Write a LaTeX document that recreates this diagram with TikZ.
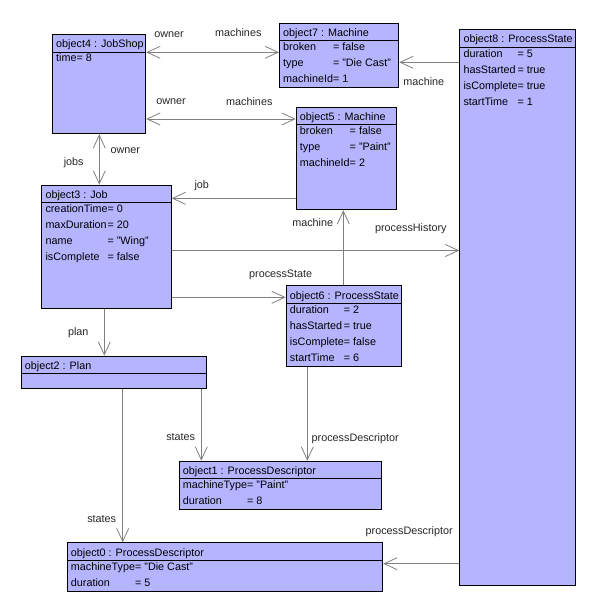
\documentclass[tikz,border=0pt]{standalone}
\usepackage{fontspec}
\setmainfont{Liberation Sans}
\usetikzlibrary{arrows.meta}
\definecolor{boxfill}{RGB}{180,180,255}
\definecolor{conncol}{RGB}{128,128,128}
\begin{document}
\begin{tikzpicture}[x=1pt,y=-1pt,
  font=\fontsize{10.8}{16}\selectfont,
  box/.style={draw=black, line width=0.9pt, fill=boxfill, inner sep=0pt, anchor=north west},
  divider/.style={draw=black, line width=0.9pt},
  hdr/.style={inner sep=0pt, anchor=base west},
  attr/.style={inner sep=0pt, anchor=base west},
  lbl/.style={inner sep=0pt, text height=1.55ex, text depth=0.3ex, text=black!85},
  conn/.style={draw=conncol, line width=0.8pt},
  tip/.style={-{Straight Barb[length=13pt,width=12pt]}},
  tips/.style={{Straight Barb[length=13pt,width=12pt]}-{Straight Barb[length=13pt,width=12pt]}}
]
\useasboundingbox (0,0) rectangle (596,612);
\fill[white] (0,0) rectangle (596,612);

% ---- boxes ----
\node[box, minimum width=93.3pt, minimum height=99.3pt] (o4) at (52,34) {};
\node[box, minimum width=119.3pt, minimum height=64.6pt] (o7) at (279,22.7) {};
\node[box, minimum width=115.7pt, minimum height=555.7pt] (o8) at (459.3,29.3) {};
\node[box, minimum width=100pt, minimum height=102.6pt] (o5) at (295.7,106.7) {};
\node[box, minimum width=129.4pt, minimum height=123.3pt] (o3) at (41.3,184.7) {};
\node[box, minimum width=115.6pt, minimum height=80.7pt] (o6) at (285.7,285.3) {};
\node[box, minimum width=185.6pt, minimum height=32.6pt] (o2) at (20.7,355.7) {};
\node[box, minimum width=202pt, minimum height=48.6pt] (o1) at (178.7,460.7) {};
\node[box, minimum width=315.6pt, minimum height=48.7pt] (o0) at (66.7,542.3) {};

\foreach \b in {o4,o7,o8,o5,o3,o6,o2,o1,o0}{
  \draw[divider] ([yshift=-18pt]\b.north west) -- ([yshift=-18pt]\b.north east);
}

% ---- headers ----
\node[hdr] (h4) at ([xshift=4pt,yshift=-13.7pt]o4.north west) {object4 : JobShop};
\node[hdr] (h7) at ([xshift=4pt,yshift=-13.7pt]o7.north west) {object7 : Machine};
\node[hdr] (h8) at ([xshift=4pt,yshift=-13.7pt]o8.north west) {object8 : ProcessState};
\node[hdr] (h5) at ([xshift=4pt,yshift=-13.7pt]o5.north west) {object5 : Machine};
\node[hdr] (h3) at ([xshift=4pt,yshift=-13.7pt]o3.north west) {object3 : Job};
\node[hdr] (h6) at ([xshift=4pt,yshift=-13.7pt]o6.north west) {object6 : ProcessState};
\node[hdr] (h2) at ([xshift=4pt,yshift=-13.7pt]o2.north west) {object2 : Plan};
\node[hdr] (h1) at ([xshift=4pt,yshift=-13.7pt]o1.north west) {object1 : ProcessDescriptor};
\node[hdr] (h0) at ([xshift=4pt,yshift=-13.7pt]o0.north west) {object0 : ProcessDescriptor};

% ---- attributes ----
\node[attr] (a4) at ([xshift=4pt,yshift=-28pt]o4.north west)
  {\begin{tabular}[t]{@{}l@{}l@{}}time&= 8\end{tabular}};
\node[attr] (a7) at ([xshift=4pt,yshift=-28pt]o7.north west)
  {\begin{tabular}[t]{@{}l@{}l@{}}broken&= false\\ type&= "Die Cast"\\ machineId&= 1\end{tabular}};
\node[attr] (a8) at ([xshift=4pt,yshift=-28pt]o8.north west)
  {\begin{tabular}[t]{@{}l@{}l@{}}duration&= 5\\ hasStarted&= true\\ isComplete&= true\\ startTime&= 1\end{tabular}};
\node[attr] (a5) at ([xshift=4pt,yshift=-28pt]o5.north west)
  {\begin{tabular}[t]{@{}l@{}l@{}}broken&= false\\ type&= "Paint"\\ machineId&= 2\end{tabular}};
\node[attr] (a3) at ([xshift=4pt,yshift=-28pt]o3.north west)
  {\begin{tabular}[t]{@{}l@{}l@{}}creationTime&= 0\\ maxDuration&= 20\\ name&= "Wing"\\ isComplete&= false\end{tabular}};
\node[attr] (a6) at ([xshift=4pt,yshift=-28pt]o6.north west)
  {\begin{tabular}[t]{@{}l@{}l@{}}duration&= 2\\ hasStarted&= true\\ isComplete&= false\\ startTime&= 6\end{tabular}};
\node[attr] (a1) at ([xshift=4pt,yshift=-28pt]o1.north west)
  {\begin{tabular}[t]{@{}l@{}l@{}}machineType&= "Paint"\\ duration&= 8\end{tabular}};
\node[attr] (a0) at ([xshift=4pt,yshift=-28pt]o0.north west)
  {\begin{tabular}[t]{@{}l@{}l@{}}machineType&= "Die Cast"\\ duration&= 5\end{tabular}};

% ---- connectors ----
\draw[conn,tips] (o4.east |- 0,52.3) -- (o7.west |- 0,52.3);
\draw[conn,tips] (o4.east |- 0,119) -- (o5.west |- 0,119);
\draw[conn,tips] (o4.south -| 99.3,0) -- (o3.north -| 99.3,0);
\draw[conn,tip] (o5.west |- 0,198.3) -- (o3.east |- 0,198.3);
\draw[conn,tip] (o3.east |- 0,250.5) -- (o8.west |- 0,250.5);
\draw[conn,tip] (o3.east |- 0,297.3) -- (o6.west |- 0,297.3);
\draw[conn,tip] (o6.north -| 343.3,0) -- (o5.south -| 343.3,0);
\draw[conn,tip] (o8.west |- 0,62.3) -- (o7.east |- 0,62.3);
\draw[conn,tip] (o3.south -| 104.3,0) -- (o2.north -| 104.3,0);
\draw[conn,tip] (o2.south -| 201.3,0) -- (o1.north -| 201.3,0);
\draw[conn,tip] (o2.south -| 122.7,0) -- (o0.north -| 122.7,0);
\draw[conn,tip] (o6.south -| 307.3,0) -- (o1.north -| 307.3,0);
\draw[conn,tip] (o8.west |- 0,563.7) -- (o0.east |- 0,563.7);

% ---- labels ----
\node[lbl] (l1) at (169,34) {owner};
\node[lbl] (l2) at (238.3,33) {machines};
\node[lbl] (l3) at (171,101.7) {owner};
\node[lbl] (l4) at (249.3,102) {machines};
\node[lbl] (l5) at (125.3,150) {owner};
\node[lbl] (l6) at (73.7,161.7) {jobs};
\node[lbl] (l7) at (201.8,185.5) {job};
\node[lbl] (l8) at (410.8,228.3) {processHistory};
\node[lbl] (l9) at (280.7,274) {processState};
\node[lbl] (l10) at (312.7,223.3) {machine};
\node[lbl] (l11) at (423.8,81.7) {machine};
\node[lbl] (l12) at (78.3,332.3) {plan};
\node[lbl] (l13) at (180.7,437.3) {states};
\node[lbl] (l14) at (101.7,519) {states};
\node[lbl] (l15) at (355.2,438.3) {processDescriptor};
\node[lbl] (l16) at (409.2,531) {processDescriptor};
\end{tikzpicture}
\end{document}
